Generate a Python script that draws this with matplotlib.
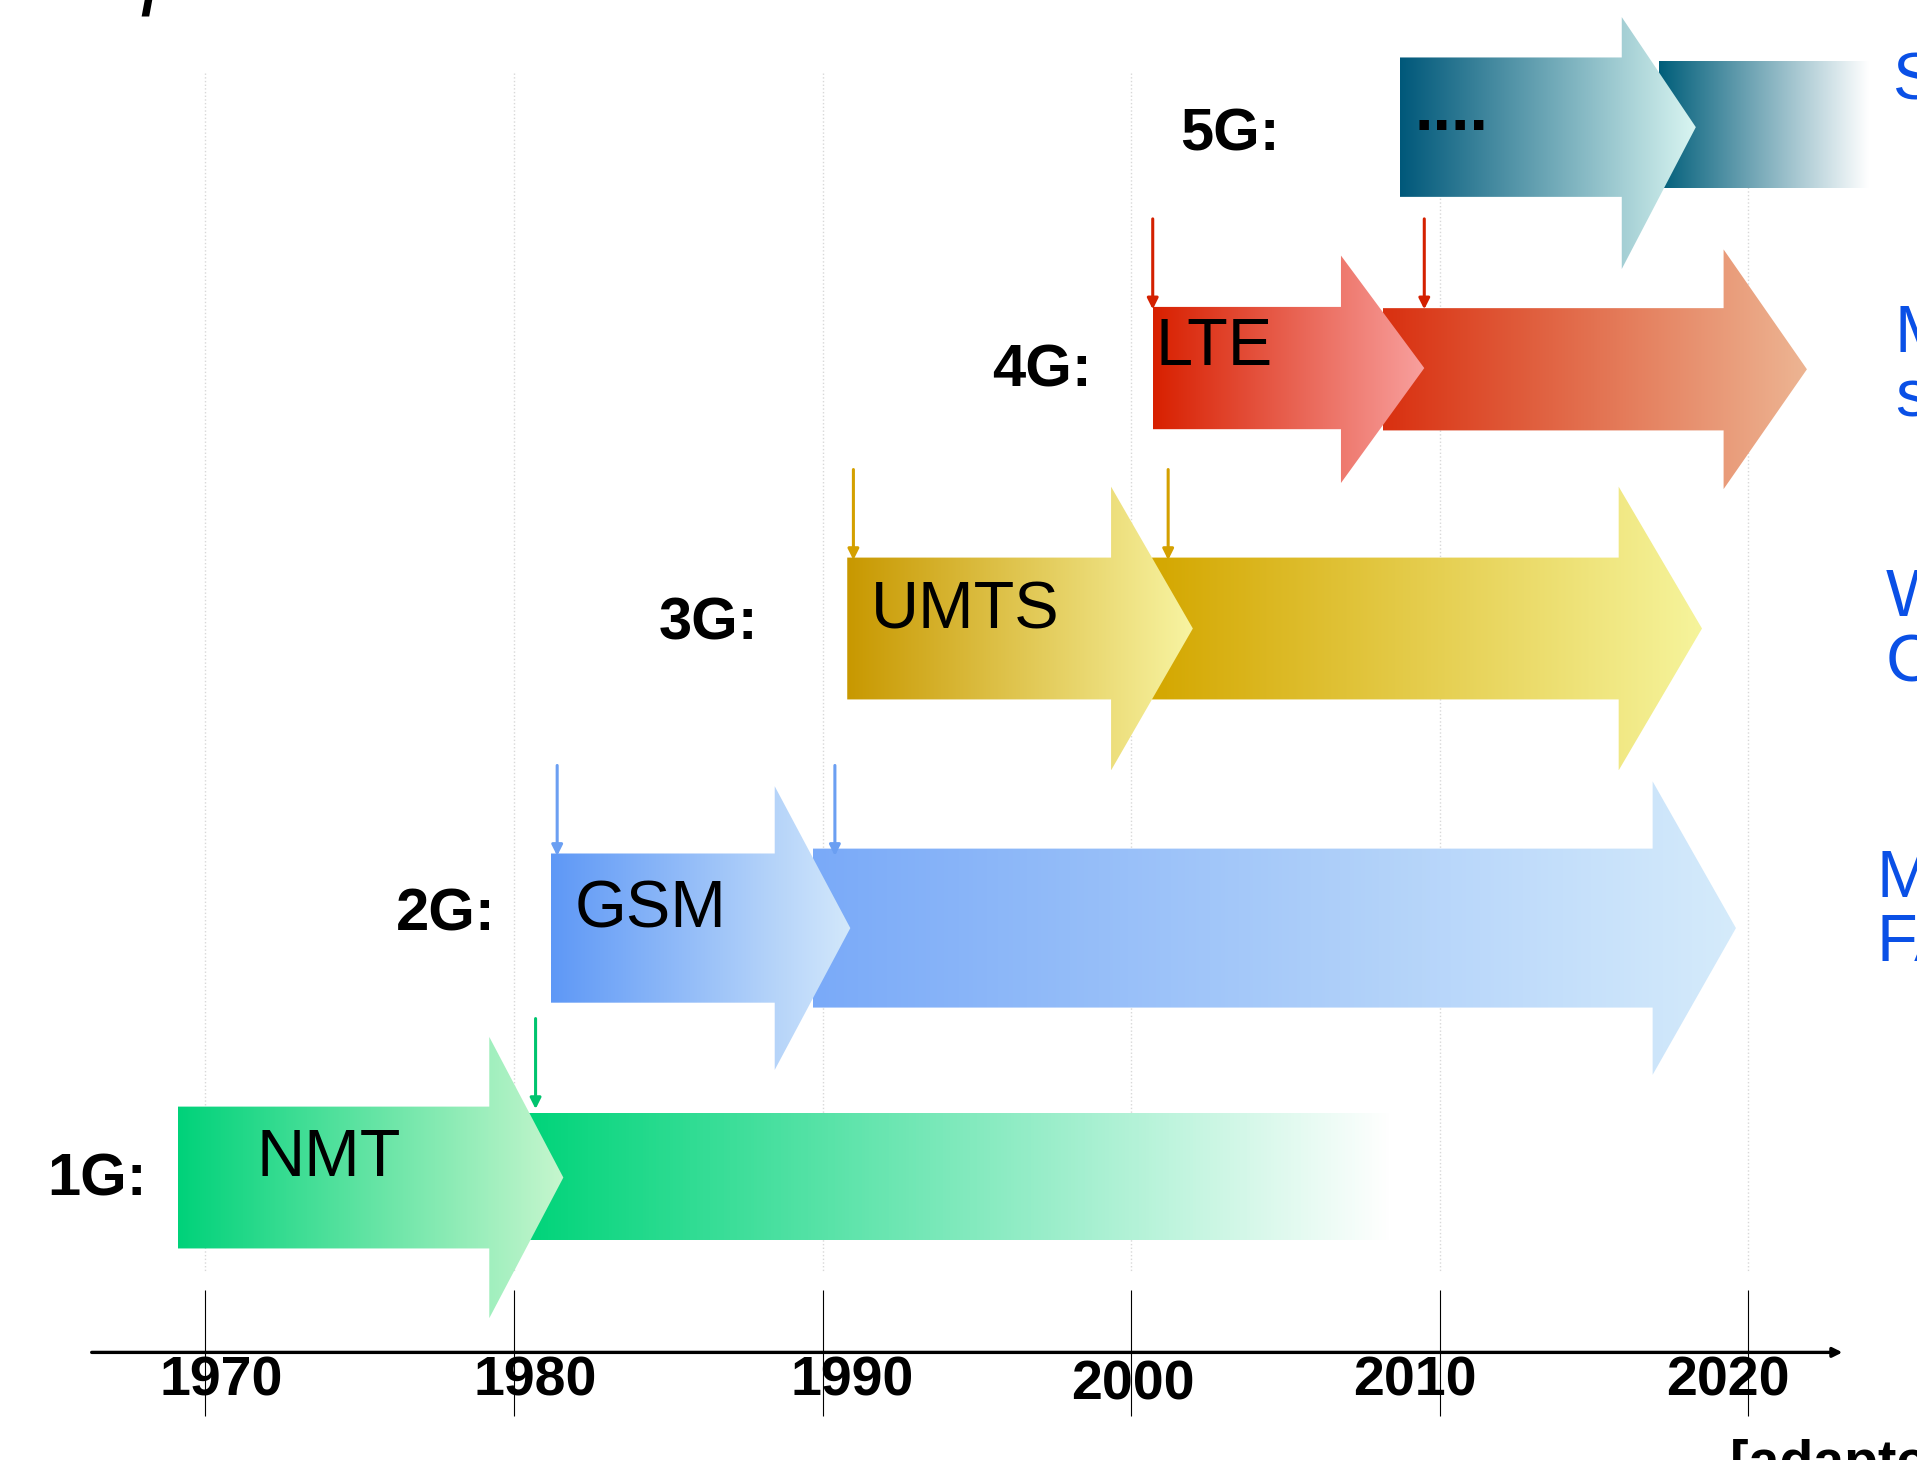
import numpy as np
import matplotlib.pyplot as plt
from matplotlib.patches import Polygon
from matplotlib.colors import LinearSegmentedColormap

# Data: mobile generations timeline
gens = ["1G:", "2G:", "3G:", "4G:", "5G:"]
techs = ["NMT", "GSM", "UMTS", "LTE", "...."]
start_year = [1969.1, 1981.2, 1990.8, 2000.7, 2008.7]
handover_year = [1981.6, 1990.9, 2002.0, 2009.5, 2018.3]   # tip of first arrow
end_year = [2008.5, 2019.6, 2018.5, 2021.9, 2023.9]        # end of second arrow
fade_out = [True, False, False, False, True]               # no arrow head, fades to white
marker_years = [[1980.7], [1981.4, 1990.4], [1991.0, 2001.2], [2000.7, 2009.5], []]
services = ["", "Mobile telephony,\nFAX, SMS", "WWW,\nCloud", "Mobile Internet,\nstreaming", "Smart devices"]
years = [1970, 1980, 1990, 2000, 2010, 2020]

# colours
first_cols = [("#00D27A", "#C6F6CE"), ("#5E98F6", "#D3E8FB"), ("#C89800", "#F8F4A2"),
              ("#D82000", "#F8A09E"), ("#00587A", "#DAF6F2")]
second_cols = [("#00D47A", "#FFFFFF"), ("#7AAAF8", "#D5EBFB"), ("#D4A700", "#F6F49C"),
               ("#D93010", "#EDB593"), ("#005E7A", "#FFFFFF")]
marker_cols = ["#00C46E", "#6B9FF2", "#D4A000", "#D42000", "#005E7A"]

# layout (vertical positions in picture units, 0 = top)
row_y = [963, 759, 514, 301, 104]
body_half = [58, 61, 58, 50, 57]
head_up = [115, 116, 116, 92, 90]
head_down = [115, 116, 116, 94, 116]
head_len = [2.4, 2.45, 2.65, 2.7, 2.4]
row2_y = [962, 759, 514, 302, 102]
body2_half = [52, 65, 58, 50, 52]
head2_half = [115, 120, 116, 98, 100]
head2_len = [2.7, 2.7, 2.7, 2.7, 2.7]
gen_x = [120, 405, 620, 893, 1047]
gen_y = [965, 748, 510, 303, 110]
tech_x = [210, 470, 712, 945, 1157]
tech_y = [948, 745, 500, 285, 118]
service_x = [1550, 1535, 1542, 1550, 1548]
service_y = [0, 746, 516, 300, 67]
label_off = [0.5, 0.7, 0.95, 0.05, -0.8, -0.65]
label_y = [1130, 1130, 1130, 1133, 1130, 1130]


def px(p):
    # horizontal picture position -> year
    return 1970 + (p - 168) / 25.24


def grad_arrow(ax, x0, x1, yc, hb, hu, hd, hl, c0, c1, head=True, z=2):
    if head:
        xb = x1 - hl
        verts = [(x0, yc - hb), (xb, yc - hb), (xb, yc - hu), (x1, yc),
                 (xb, yc + hd), (xb, yc + hb), (x0, yc + hb)]
    else:
        verts = [(x0, yc - hb), (x1, yc - hb), (x1, yc + hb), (x0, yc + hb)]
    poly = Polygon(verts, closed=True, facecolor="none", edgecolor="none")
    ax.add_patch(poly)
    cmap = LinearSegmentedColormap.from_list("g", [c0, c1])
    grad = np.linspace(0, 1, 256).reshape(1, -1)
    im = ax.imshow(grad, cmap=cmap, extent=(x0, x1, yc + max(hd, hb), yc - max(hu, hb)),
                   aspect="auto", interpolation="bilinear", zorder=z)
    im.set_clip_path(poly)


plt.rcParams["font.family"] = ["Liberation Sans", "DejaVu Sans"]
narrow = ["Liberation Sans Narrow", "Liberation Sans", "DejaVu Sans"]

fig = plt.figure(figsize=(19.17, 14.60), dpi=100)
ax = fig.add_axes([0, 0, 1, 1])

# faint grid
ax.vlines(years, 60, 1040, colors="#D8D8D8", linestyles=":", lw=1, zorder=0)

for i in range(len(gens)):
    tip = handover_year[i]
    base = tip - head_len[i]
    s2 = (base + tip) / 2
    grad_arrow(ax, s2, end_year[i], row2_y[i], body2_half[i], head2_half[i], head2_half[i],
               head2_len[i], second_cols[i][0], second_cols[i][1], head=not fade_out[i], z=2)
    grad_arrow(ax, start_year[i], tip, row_y[i], body_half[i], head_up[i], head_down[i],
               head_len[i], first_cols[i][0], first_cols[i][1], head=True, z=3)

    for m in marker_years[i]:
        top = row_y[i] - body_half[i]
        ax.annotate("", xy=(m, top + 2), xytext=(m, top - 72),
                    arrowprops=dict(arrowstyle="-|>", color=marker_cols[i], lw=2.2,
                                    mutation_scale=16, shrinkA=0, shrinkB=0), zorder=4)

    ax.text(px(gen_x[i]), gen_y[i], gens[i], ha="right", va="center",
            fontsize=43, fontweight="bold", color="black", zorder=5)
    if techs[i] == "....":
        ax.text(px(tech_x[i]), tech_y[i], techs[i], ha="left", va="bottom",
                fontsize=48, fontweight="bold", color="black", zorder=5)
    else:
        ax.text(px(tech_x[i]), tech_y[i], techs[i], ha="left", va="center",
                fontsize=48, color="black", zorder=5)
    if services[i]:
        ax.text(px(service_x[i]), service_y[i], services[i], ha="left", va="center",
                fontsize=48, color="#0A50E6", linespacing=1.05, zorder=5)

# time axis
ax.annotate("", xy=(px(1507), 1106), xytext=(px(75), 1106),
            arrowprops=dict(arrowstyle="-|>", color="black", lw=2.4,
                            mutation_scale=14, shrinkA=0, shrinkB=0))
ax.vlines(years, 1055, 1158, colors="black", lw=0.8, zorder=1)
for yr, off, ly in zip(years, label_off, label_y):
    ax.text(yr + off, ly, str(yr), ha="center", va="center", fontsize=40,
            fontweight="bold", family=narrow, color="black", zorder=5)

# cut-off bits of the slide
ax.text(px(122), 12, "/", ha="center", va="baseline", fontsize=46,
        fontweight="bold", color="black")
ax.text(px(1415), 1177, "[adapted from ...]", ha="left", va="top", fontsize=40,
        fontweight="bold", family=narrow, color="black")

ax.set_xlim(px(0), px(1568))
ax.set_ylim(1194, 0)
ax.axis("off")

fig.savefig("out.png", dpi=100, facecolor="white")
